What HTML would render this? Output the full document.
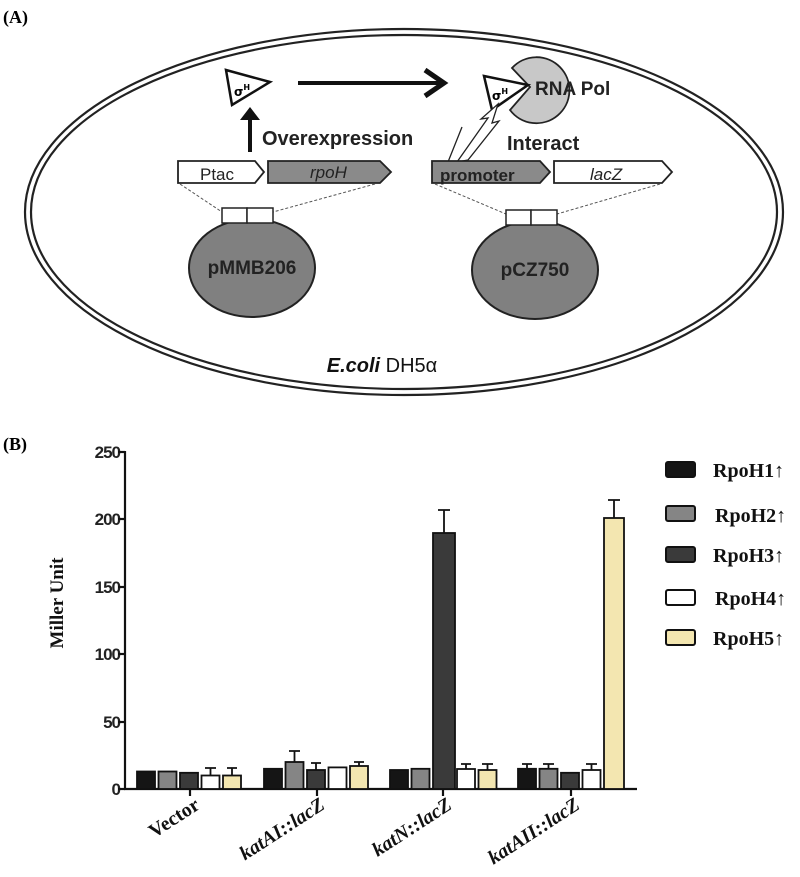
<!DOCTYPE html>
<html><head><meta charset="utf-8"><style>
html,body{margin:0;padding:0;background:#fff;}
svg{display:block;}
.t{font-family:"Liberation Serif",serif;font-weight:bold;}
.s{font-family:"DejaVu Sans","Liberation Sans",sans-serif;font-weight:bold;}
.a{font-family:"Liberation Sans",sans-serif;}
</style></head><body>
<svg width="800" height="877" viewBox="0 0 800 877" xmlns="http://www.w3.org/2000/svg">
<text x="3" y="23" class="t" font-size="18">(A)</text>
<ellipse cx="404" cy="212" rx="379" ry="183" fill="none" stroke="#222" stroke-width="2.2"/>
<ellipse cx="404" cy="212" rx="373" ry="177" fill="none" stroke="#222" stroke-width="2.2"/>
<polygon points="226,70 270,82 232,105" fill="#fff" stroke="#111" stroke-width="2.5"/>
<text x="234" y="96" class="s" font-size="12">σ<tspan font-size="8" dy="-6">H</tspan></text>
<line x1="298" y1="83" x2="440" y2="83" stroke="#111" stroke-width="4"/>
<polyline points="425,70 444,83 425,96" fill="none" stroke="#111" stroke-width="5"/>
<path d="M530,87 L512,68 A33,33 0 1 1 510,110 Z" fill="#c8c8c8" stroke="#222" stroke-width="1.8"/>
<polygon points="484,76 528,85 492,110" fill="#fff" stroke="#111" stroke-width="2.5"/>
<text x="492" y="100" class="s" font-size="12">σ<tspan font-size="8" dy="-6">H</tspan></text>
<text x="535" y="95" class="a" font-size="19" font-weight="bold" fill="#222">RNA Pol</text>
<line x1="250" y1="152" x2="250" y2="116" stroke="#111" stroke-width="4"/>
<polygon points="240,120 250,107 260,120" fill="#111"/>
<text x="262" y="145" class="a" font-size="20" font-weight="bold" fill="#222">Overexpression</text>
<text x="507" y="150" class="a" font-size="20" font-weight="bold" fill="#222">Interact</text>
<polygon points="457,162 488,118 481,119 498,104 492,123 499,121 468,160" fill="#fff" stroke="#222" stroke-width="1.3"/>
<line x1="448" y1="162" x2="462" y2="127" stroke="#222" stroke-width="1.3"/>
<polygon points="178,161 255,161 264,172 255,183 178,183" fill="#fff" stroke="#222" stroke-width="1.8"/>
<text x="200" y="180" class="a" font-size="17" fill="#222">Ptac</text>
<polygon points="268,161 380,161 391,172 380,183 268,183" fill="#8a8a8a" stroke="#222" stroke-width="1.8"/>
<text x="310" y="178" class="a" font-size="17" font-style="italic" fill="#222">rpoH</text>
<polygon points="432,161 540,161 550,172 540,183 432,183" fill="#8a8a8a" stroke="#222" stroke-width="1.8"/>
<text x="440" y="181" class="a" font-size="17" font-weight="bold" fill="#222">promoter</text>
<polygon points="554,161 662,161 672,172 662,183 554,183" fill="#fff" stroke="#222" stroke-width="1.8"/>
<text x="590" y="180" class="a" font-size="17" font-style="italic" fill="#222">lacZ</text>
<g stroke="#555" stroke-width="1" stroke-dasharray="3,2">
<line x1="180" y1="184" x2="222" y2="212"/><line x1="375" y1="184" x2="273" y2="212"/>
<line x1="435" y1="184" x2="506" y2="214"/><line x1="660" y1="184" x2="557" y2="214"/>
</g>
<ellipse cx="252" cy="268" rx="63" ry="49" fill="#808080" stroke="#222" stroke-width="2"/>
<rect x="222" y="208" width="25" height="15" fill="#fff" stroke="#222" stroke-width="1.5"/>
<rect x="247" y="208" width="26" height="15" fill="#fff" stroke="#222" stroke-width="1.5"/>
<text x="252" y="274" text-anchor="middle" class="a" font-size="19" font-weight="bold" fill="#222">pMMB206</text>
<ellipse cx="535" cy="270" rx="63" ry="49" fill="#808080" stroke="#222" stroke-width="2"/>
<rect x="506" y="210" width="25" height="15" fill="#fff" stroke="#222" stroke-width="1.5"/>
<rect x="531" y="210" width="26" height="15" fill="#fff" stroke="#222" stroke-width="1.5"/>
<text x="535" y="276" text-anchor="middle" class="a" font-size="19" font-weight="bold" fill="#222">pCZ750</text>
<text x="382" y="372" text-anchor="middle" class="a" font-size="20" fill="#111"><tspan font-style="italic" font-weight="bold">E.coli</tspan> DH5α</text>

<text x="3" y="450" class="t" font-size="18">(B)</text>
<g class="a" font-size="17" font-weight="bold" fill="#222" text-anchor="end" letter-spacing="-1">
<text x="120" y="458">250</text><text x="120" y="525">200</text><text x="120" y="593">150</text>
<text x="120" y="660">100</text><text x="120" y="728">50</text><text x="120" y="795">0</text>
</g>
<g stroke="#111" stroke-width="2.2">
<line x1="125" y1="451" x2="125" y2="790"/>
<line x1="118" y1="452" x2="125" y2="452"/><line x1="118" y1="519" x2="125" y2="519"/>
<line x1="118" y1="587" x2="125" y2="587"/><line x1="118" y1="654" x2="125" y2="654"/>
<line x1="118" y1="722" x2="125" y2="722"/><line x1="118" y1="789" x2="125" y2="789"/>
<line x1="124" y1="789" x2="637" y2="789"/>
<line x1="190" y1="789" x2="190" y2="796"/><line x1="317" y1="789" x2="317" y2="796"/>
<line x1="443" y1="789" x2="443" y2="796"/><line x1="571" y1="789" x2="571" y2="796"/>
</g>
<text transform="translate(63,603) rotate(-90)" text-anchor="middle" class="t" font-size="19" fill="#111">Miller Unit</text>
<g stroke="#111" stroke-width="1.8">
<rect x="137" y="771.5" width="18" height="17.5" fill="#151515"/>
<rect x="158.5" y="771.5" width="18" height="17.5" fill="#858585"/>
<rect x="180" y="772.8" width="18" height="16.2" fill="#3a3a3a"/>
<rect x="201.5" y="775.5" width="18" height="13.5" fill="#fff"/>
<rect x="223" y="775.5" width="18" height="13.5" fill="#f3e6b0"/>
<path d="M210.5,775 V768 M205,768 H216 M232,775 V768 M227,768 H237" fill="none"/>
<rect x="264" y="768.8" width="18" height="20.2" fill="#151515"/>
<rect x="285.5" y="762" width="18" height="27" fill="#858585"/>
<rect x="307" y="770" width="18" height="19" fill="#3a3a3a"/>
<rect x="328.5" y="767.4" width="18" height="21.6" fill="#fff"/>
<rect x="350" y="766" width="18" height="23" fill="#f3e6b0"/>
<path d="M294.5,762 V751 M289,751 H300 M316,770 V763 M311,763 H321 M359,766 V762 M354,762 H364" fill="none"/>
<rect x="390" y="770" width="18" height="19" fill="#151515"/>
<rect x="411.5" y="768.8" width="18" height="20.2" fill="#858585"/>
<rect x="433" y="533" width="22" height="256" fill="#3a3a3a"/>
<rect x="457" y="769" width="18" height="20" fill="#fff"/>
<rect x="478.5" y="770" width="18" height="19" fill="#f3e6b0"/>
<path d="M444,533 V510 M438,510 H450 M466,769 V764 M461,764 H471 M487.5,770 V764 M482,764 H493" fill="none"/>
<rect x="518" y="768.8" width="18" height="20.2" fill="#151515"/>
<rect x="539.5" y="768.8" width="18" height="20.2" fill="#858585"/>
<rect x="561" y="772.8" width="18" height="16.2" fill="#3a3a3a"/>
<rect x="582.5" y="770" width="18" height="19" fill="#fff"/>
<rect x="604" y="518" width="20" height="271" fill="#f3e6b0"/>
<path d="M527,768 V764 M522,764 H532 M548.5,768 V764 M543,764 H554 M591.5,770 V764 M586,764 H597 M614,518 V500 M608,500 H620" fill="none"/>
</g>
<g class="t" font-size="20" font-style="italic" fill="#111" text-anchor="end">
<text transform="translate(201,808) rotate(-33)" font-style="normal">Vector</text>
<text transform="translate(326,808) rotate(-33)">katAI::lacZ</text>
<text transform="translate(453,808) rotate(-33)">katN::lacZ</text>
<text transform="translate(581,808) rotate(-33)">katAII::lacZ</text>
</g>
<g stroke="#111" stroke-width="2">
<rect x="666" y="462" width="29" height="15" rx="2" fill="#151515"/>
<rect x="666" y="506" width="29" height="15" rx="2" fill="#858585"/>
<rect x="666" y="547" width="29" height="15" rx="2" fill="#3a3a3a"/>
<rect x="666" y="590" width="29" height="15" rx="2" fill="#fff"/>
<rect x="666" y="630" width="29" height="15" rx="2" fill="#f3e6b0"/>
</g>
<g class="t" font-size="20" fill="#111">
<text x="713" y="477">RpoH1<tspan font-weight="normal">↑</tspan></text>
<text x="715" y="522">RpoH2<tspan font-weight="normal">↑</tspan></text>
<text x="713" y="562">RpoH3<tspan font-weight="normal">↑</tspan></text>
<text x="715" y="605">RpoH4<tspan font-weight="normal">↑</tspan></text>
<text x="713" y="645">RpoH5<tspan font-weight="normal">↑</tspan></text>
</g>
</svg>
</body></html>
